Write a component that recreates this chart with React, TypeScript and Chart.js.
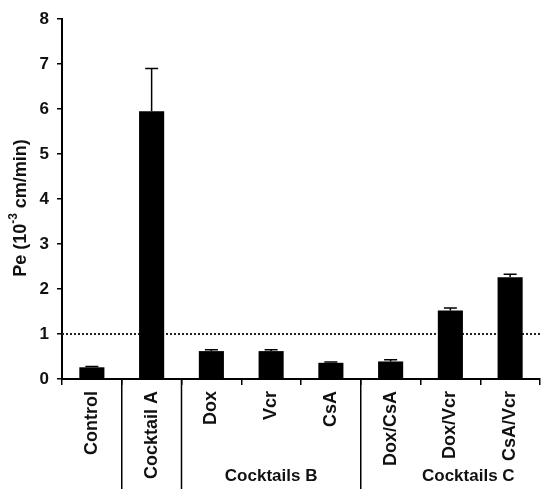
import React, { useEffect, useRef } from "react";
import { Chart, registerables } from "chart.js";

Chart.register(...registerables);

const categories = ["Control", "Cocktail A", "Dox", "Vcr", "CsA", "Dox/CsA", "Dox/Vcr", "CsA/Vcr"];
const values = [0.26, 5.95, 0.62, 0.62, 0.36, 0.39, 1.52, 2.26];
const errors = [0.02, 0.95, 0.03, 0.03, 0.02, 0.04, 0.06, 0.07];
const yTicks = [0, 1, 2, 3, 4, 5, 6, 7, 8];
const thresholdValue = 1;
const separatorAfter = [0, 1, 4]; // separator lines after these category indices
const groupLabels = ["Cocktails B", "Cocktails C"];
const groupCenters = [3, 6.3]; // in category units
const yTitleMain = "Pe (10";
const yTitleSup = "-3";
const yTitleRest = " cm/min)";

const FONT = "Arial, 'Liberation Sans', sans-serif";

const extrasPlugin = {
  id: "extras",
  beforeDatasetsDraw(chart: any) {
    const { ctx, chartArea, scales } = chart;
    const y = scales.y.getPixelForValue(thresholdValue);
    ctx.save();
    ctx.strokeStyle = "#222";
    ctx.lineWidth = 2;
    ctx.setLineDash([2, 2]);
    ctx.beginPath();
    ctx.moveTo(chartArea.left, y);
    ctx.lineTo(chartArea.right, y);
    ctx.stroke();
    ctx.restore();
  },
  afterDatasetsDraw(chart: any) {
    const { ctx, scales } = chart;
    const meta = chart.getDatasetMeta(0);
    ctx.save();
    ctx.strokeStyle = "#000";
    ctx.lineWidth = 1.5;
    values.forEach((v, i) => {
      const bar = meta.data[i];
      if (!bar) return;
      const yTop = scales.y.getPixelForValue(v + errors[i]);
      const yBar = scales.y.getPixelForValue(v);
      ctx.beginPath();
      ctx.moveTo(bar.x, yBar);
      ctx.lineTo(bar.x, yTop);
      ctx.moveTo(bar.x - 6.5, yTop);
      ctx.lineTo(bar.x + 6.5, yTop);
      ctx.stroke();
    });
    ctx.restore();
  },
  afterDraw(chart: any) {
    const { ctx, chartArea, scales, height } = chart;
    const xs = scales.x;
    ctx.save();
    // separators
    ctx.strokeStyle = "#000";
    ctx.lineWidth = 1.5;
    separatorAfter.forEach((i) => {
      const x = xs.getPixelForValue(i + 0.5);
      ctx.beginPath();
      ctx.moveTo(x, chartArea.bottom);
      ctx.lineTo(x, height);
      ctx.stroke();
    });
    // group labels
    ctx.fillStyle = "#111";
    ctx.font = `bold 17px ${FONT}`;
    ctx.textAlign = "center";
    ctx.textBaseline = "middle";
    groupLabels.forEach((g, i) => {
      ctx.fillText(g, xs.getPixelForValue(groupCenters[i]), 476);
    });
    // y title
    ctx.translate(21, 208);
    ctx.rotate(-Math.PI / 2);
    ctx.textAlign = "left";
    ctx.textBaseline = "middle";
    const mainFont = `bold 18px ${FONT}`;
    const supFont = `bold 12px ${FONT}`;
    ctx.font = mainFont;
    const w1 = ctx.measureText(yTitleMain).width;
    const w3 = ctx.measureText(yTitleRest).width;
    ctx.font = supFont;
    const w2 = ctx.measureText(yTitleSup).width;
    let x0 = -(w1 + w2 + w3) / 2;
    ctx.font = mainFont;
    ctx.fillText(yTitleMain, x0, 0);
    x0 += w1;
    ctx.font = supFont;
    ctx.fillText(yTitleSup, x0, -7);
    x0 += w2;
    ctx.font = mainFont;
    ctx.fillText(yTitleRest, x0, 0);
    ctx.restore();
  },
};

export default function App() {
  const canvasRef = useRef<HTMLCanvasElement | null>(null);

  useEffect(() => {
    if (!canvasRef.current) return;
    const chart = new Chart(canvasRef.current, {
      type: "bar",
      data: {
        labels: categories,
        datasets: [
          {
            data: values,
            backgroundColor: "#000",
            borderWidth: 0,
            barPercentage: 0.42,
            categoryPercentage: 1,
          },
        ],
      },
      options: {
        animation: false,
        responsive: true,
        maintainAspectRatio: false,
        layout: { padding: { top: 19, right: 2, left: 0, bottom: 0 } },
        plugins: { legend: { display: false }, tooltip: { enabled: false } },
        scales: {
          x: {
            type: "category",
            offset: true,
            grid: {
              offset: true,
              drawOnChartArea: false,
              drawTicks: true,
              tickLength: 6,
              color: "#000",
              lineWidth: 1.5,
            },
            border: { display: true, color: "#000", width: 2 },
            ticks: {
              autoSkip: false,
              maxRotation: 90,
              minRotation: 90,
              padding: 6,
              color: "#111",
              font: { family: FONT, size: 18, weight: "bold" },
            },
            afterFit: (scale: any) => {
              scale.height = 110;
              scale.paddingLeft = 0;
              scale.paddingRight = 0;
            },
          },
          y: {
            min: 0,
            max: 8,
            afterBuildTicks: (scale: any) => {
              scale.ticks = yTicks.map((v) => ({ value: v }));
            },
            grid: {
              drawOnChartArea: false,
              drawTicks: true,
              tickLength: 5,
              color: "#000",
              lineWidth: 1.5,
            },
            border: { display: true, color: "#000", width: 2 },
            ticks: {
              padding: 8,
              color: "#111",
              font: { family: FONT, size: 17, weight: "bold" },
            },
            afterFit: (scale: any) => {
              scale.width = 62;
              scale.paddingTop = 0;
              scale.paddingBottom = 0;
            },
          },
        },
      },
      plugins: [extrasPlugin],
    } as any);
    return () => chart.destroy();
  }, []);

  return (
    <div style={{ position: "absolute", left: 0, top: 0, width: 542, height: 489, background: "#fff" }}>
      <canvas ref={canvasRef} />
    </div>
  );
}
